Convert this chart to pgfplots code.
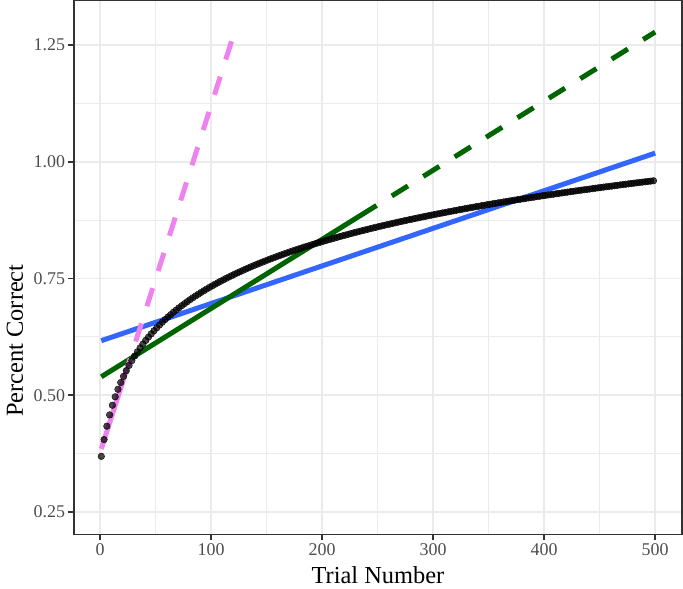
\documentclass[border=0pt]{standalone}
\usepackage{fontspec}
\setmainfont{Liberation Serif}
\usepackage{pgfplots}
\pgfplotsset{compat=1.18}
\definecolor{gridgray}{HTML}{EBEBEB}
\definecolor{gray30}{HTML}{4D4D4D}
\definecolor{gray20}{HTML}{333333}
\definecolor{ggblue}{HTML}{3366FF}
\definecolor{dkgreen}{HTML}{006400}
\definecolor{pinkv}{HTML}{EE82EE}
\pgfplotstableread{
x y
1 0.3690
3.5 0.4049
6 0.4337
8.5 0.4578
11 0.4785
13.5 0.4966
16 0.5127
18.5 0.5272
21 0.5404
23.5 0.5525
26 0.5637
28.5 0.5741
31 0.5838
33.5 0.5929
36 0.6015
38.5 0.6096
41 0.6173
43.5 0.6245
46 0.6315
48.5 0.6381
51 0.6445
53.5 0.6505
56 0.6564
58.5 0.6620
61 0.6674
63.5 0.6726
66 0.6777
68.5 0.6825
71 0.6872
73.5 0.6918
76 0.6962
78.5 0.7005
81 0.7047
83.5 0.7088
86 0.7127
88.5 0.7165
91 0.7203
93.5 0.7239
96 0.7275
98.5 0.7310
101 0.7344
103.5 0.7377
106 0.7410
108.5 0.7441
111 0.7472
113.5 0.7503
116 0.7533
118.5 0.7562
121 0.7591
123.5 0.7619
126 0.7646
128.5 0.7673
131 0.7700
133.5 0.7726
136 0.7752
138.5 0.7777
141 0.7802
143.5 0.7826
146 0.7850
148.5 0.7874
151 0.7897
153.5 0.7920
156 0.7942
158.5 0.7964
161 0.7986
163.5 0.8008
166 0.8029
168.5 0.8050
171 0.8071
173.5 0.8091
176 0.8111
178.5 0.8131
181 0.8150
183.5 0.8170
186 0.8188
188.5 0.8207
191 0.8226
193.5 0.8244
196 0.8262
198.5 0.8280
201 0.8298
203.5 0.8315
206 0.8332
208.5 0.8349
211 0.8366
213.5 0.8383
216 0.8399
218.5 0.8415
221 0.8431
223.5 0.8447
226 0.8463
228.5 0.8479
231 0.8494
233.5 0.8509
236 0.8524
238.5 0.8539
241 0.8554
243.5 0.8569
246 0.8583
248.5 0.8598
251 0.8612
253.5 0.8626
256 0.8640
258.5 0.8654
261 0.8667
263.5 0.8681
266 0.8694
268.5 0.8708
271 0.8721
273.5 0.8734
276 0.8747
278.5 0.8760
281 0.8772
283.5 0.8785
286 0.8797
288.5 0.8810
291 0.8822
293.5 0.8834
296 0.8846
298.5 0.8858
301 0.8870
303.5 0.8882
306 0.8893
308.5 0.8905
311 0.8916
313.5 0.8928
316 0.8939
318.5 0.8950
321 0.8962
323.5 0.8973
326 0.8984
328.5 0.8995
331 0.9006
333.5 0.9016
336 0.9027
338.5 0.9038
341 0.9048
343.5 0.9059
346 0.9069
348.5 0.9080
351 0.9090
353.5 0.9100
356 0.9110
358.5 0.9120
361 0.9130
363.5 0.9140
366 0.9150
368.5 0.9160
371 0.9170
373.5 0.9179
376 0.9189
378.5 0.9198
381 0.9208
383.5 0.9217
386 0.9226
388.5 0.9235
391 0.9244
393.5 0.9254
396 0.9263
398.5 0.9272
401 0.9281
403.5 0.9290
406 0.9298
408.5 0.9307
411 0.9316
413.5 0.9325
416 0.9333
418.5 0.9342
421 0.9351
423.5 0.9359
426 0.9368
428.5 0.9376
431 0.9384
433.5 0.9393
436 0.9401
438.5 0.9409
441 0.9417
443.5 0.9425
446 0.9434
448.5 0.9442
451 0.9450
453.5 0.9458
456 0.9466
458.5 0.9473
461 0.9481
463.5 0.9489
466 0.9497
468.5 0.9505
471 0.9512
473.5 0.9520
476 0.9528
478.5 0.9535
481 0.9543
483.5 0.9550
486 0.9557
488.5 0.9565
491 0.9572
493.5 0.9579
496 0.9587
498.5 0.9594
}\trials
\begin{document}
\begin{tikzpicture}
\begin{axis}[
  scale only axis, width=608bp, height=534bp,
  xmin=-23.6, xmax=524.2, ymin=0.2016, ymax=1.3456,
  axis line style={gray20, line width=1.6bp},
  tick style={gray20, line width=1.6bp},
  major tick length=5.5bp, minor tick length=0pt,
  tick align=outside, xtick pos=left, ytick pos=left,
  xtick={0,100,...,500}, minor xtick={50,150,...,450},
  ytick={0.25,0.5,0.75,1,1.25}, minor ytick={0.375,0.625,0.875,1.125},
  grid=both,
  major grid style={gridgray, line width=1.8bp},
  minor grid style={gridgray, line width=1bp},
  yticklabel style={/pgf/number format/.cd, fixed, fixed zerofill, precision=2},
  /pgf/number format/assume math mode=true,
  tick label style={font=\fontsize{18}{18}\selectfont, text=gray30},
  xlabel={Trial Number}, ylabel={Percent Correct},
  label style={font=\fontsize{24.5}{24.5}\selectfont, text=black},
  xlabel style={at={(axis description cs:0.5,0)}, anchor=base, yshift=-48.5bp},
  ylabel style={at={(axis description cs:0,0.363)}, anchor=center, yshift=59bp},
]
\addplot[ggblue, line width=5bp] coordinates {(1,0.6168) (500,1.0186)};
\addplot[dkgreen, line width=5bp] coordinates {(1,0.5395) (249,0.9065)};
\addplot[dkgreen, line width=5bp, dash pattern=on 19bp off 18bp, dash phase=19bp] coordinates {(249,0.9065) (500,1.278)};
\addplot[pinkv, line width=5bp] coordinates {(1,0.385) (27,0.5784)};
\addplot[pinkv, line width=5bp, dash pattern=on 19bp off 18bp, dash phase=19bp] coordinates {(27,0.5784) (122,1.2852)};
\addplot[only marks, mark=*, mark size=3.3bp, mark options={draw=none, fill=black, fill opacity=0.72}] table[x=x, y=y] {\trials};
\end{axis}
\pgfresetboundingbox
\path (-74bp,-53.7bp) rectangle (609bp,534.5bp);
\end{tikzpicture}
\end{document}
